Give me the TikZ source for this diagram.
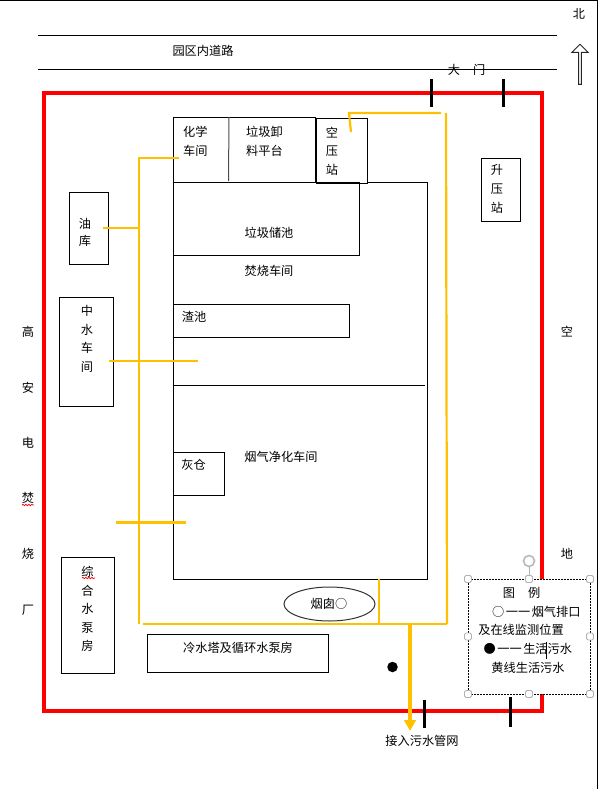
\documentclass[tikz,border=0pt]{standalone}
\usepackage{fontspec}
\setmainfont{Noto Sans CJK SC}
\usetikzlibrary{decorations.pathmorphing,arrows.meta,shapes.geometric,shapes.arrows}
\definecolor{pipe}{RGB}{255,192,0}
\tikzset{
  x=1pt,y=-1pt,
  lbl/.style={inner sep=0pt,font=\fontsize{12.2}{14}\selectfont},
  box/.style={draw=black,line width=1pt,inner sep=0pt,outer sep=0pt,anchor=north west,fill=none},
  tick/.style={draw=black,line width=3pt},
  pipeline/.style={draw=pipe,line width=2.2pt},
  handle/.style={draw=gray!60,fill=white,line width=.9pt,rounded corners=1.5pt,minimum size=7pt,inner sep=0pt},
  squiggle/.style={draw=red,line width=.7pt,decorate,decoration={snake,amplitude=.7pt,segment length=3pt}}
}
\newcommand{\rectnode}[5]{\node[box,minimum width=#4pt,minimum height=#5pt] (#1) at (#2,#3) {};}
\begin{document}
\begin{tikzpicture}
\useasboundingbox (0,0) rectangle (598,789);
% page edge
\coordinate (edgeA) at (0,.5); \coordinate (edgeB) at (597.5,.5); \coordinate (edgeC) at (597.5,789);
\draw[line width=1pt] (edgeA) -- (edgeB) -- (edgeC);
% road
\coordinate (roadAw) at (38,36); \coordinate (roadAe) at (557,36);
\coordinate (roadBw) at (38,69.5); \coordinate (roadBe) at (557,69.5);
\draw[line width=1pt] (roadAw) -- (roadAe);
\draw[line width=1pt] (roadBw) -- (roadBe);
\node[lbl] (road) at (203,51) {园区内道路};
\node[lbl] (gate) at (466.5,70) {大\hspace{13pt}门};
\node[lbl] (north) at (579,14) {北};
\node[draw=black!85,line width=1pt,single arrow,shape border rotate=90,minimum height=40pt,minimum width=16pt,single arrow head extend=2.2pt,single arrow head indent=0pt,single arrow tip angle=90,inner sep=0pt] (narrow) at (580,65) {};
% site wall
\node[draw=red,line width=4pt,inner sep=0pt,outer sep=0pt,anchor=north west,minimum width=498pt,minimum height=618pt] (site) at (44,93) {};
\coordinate (gA1) at (431,79); \coordinate (gA2) at (431,107);
\coordinate (gB1) at (503,79); \coordinate (gB2) at (503,107);
\coordinate (gC1) at (424,700); \coordinate (gC2) at (424,728);
\coordinate (gD1) at (510,697); \coordinate (gD2) at (510,727);
\draw[tick] (gA1) -- (gA2);
\draw[tick] (gB1) -- (gB2);
\draw[tick] (gC1) -- (gC2);
\draw[tick] (gD1) -- (gD2);
% side labels
\node[lbl] (w1) at (28,332) {高};
\node[lbl] (w2) at (28,388) {安};
\node[lbl] (w3) at (28,443) {电};
\node[lbl] (w4) at (28,498) {焚};
\node[lbl] (w5) at (28,554) {烧};
\node[lbl] (w6) at (28,610) {厂};
\node[lbl] (e1) at (567,332) {空};
\node[lbl] (e2) at (567,554) {地};
\coordinate (sqAa) at (22,505); \coordinate (sqAb) at (34,505);
\draw[squiggle] (sqAa) -- (sqAb);
% buildings
\rectnode{main}{173}{182}{254}{397}
\rectnode{chem}{173}{118}{142}{64}
\coordinate (divT) at (229,117); \coordinate (divB) at (228.5,181);
\draw[line width=1pt,draw=black!70] (divT) -- (divB);
\node[lbl,align=left,anchor=north west,font=\fontsize{12.2}{19}\selectfont] (chemt) at (183,125.5) {化学\\车间};
\node[lbl,align=left,anchor=north west,font=\fontsize{12.2}{19}\selectfont] (unload) at (246,125.5) {垃圾卸\\料平台};
\node[box,fill=white,minimum width=51pt,minimum height=64pt] (air) at (316,119) {};
\node[lbl,align=center,font=\fontsize{12.2}{18.5}\selectfont] (airt) at (332,151) {空\\压\\站};
\rectnode{bunker}{173}{182}{186}{73}
\node[lbl] (bunkert) at (269,233) {垃圾储池};
\node[lbl] (burn) at (269,271) {焚烧车间};
\rectnode{slag}{173}{304}{176}{33}
\node[lbl] (slagt) at (194,317) {渣池};
\coordinate (divLa) at (173,385); \coordinate (divLb) at (425,385);
\draw[line width=1pt] (divLa) -- (divLb);
\rectnode{ash}{173}{452}{51}{43}
\node[lbl] (asht) at (193.5,465) {灰仓};
\node[lbl] (flue) at (281,457) {烟气净化车间};
\rectnode{oil}{69}{192}{39}{72}
\node[lbl,align=center,font=\fontsize{12.2}{17}\selectfont] (oilt) at (85,232.5) {油\\库};
\rectnode{water}{59}{297}{54}{109}
\node[lbl,align=center,font=\fontsize{12.2}{18.7}\selectfont] (watert) at (87,339) {中\\水\\车\\间};
\rectnode{pump}{61}{557}{53}{116}
\node[lbl,align=center,font=\fontsize{12.2}{18.5}\selectfont] (pumpt) at (87.5,609) {综\\合\\水\\泵\\房};
\coordinate (sqBa) at (82,578); \coordinate (sqBb) at (95,578);
\draw[squiggle] (sqBa) -- (sqBb);
\rectnode{cool}{147}{634}{181}{38}
\node[lbl] (coolt) at (238,648) {冷水塔及循环水泵房};
\rectnode{boost}{481}{158}{39}{63}
\node[lbl,align=center,font=\fontsize{12.2}{19}\selectfont] (boostt) at (497,189) {升\\压\\站};
\node[draw=black!80,line width=1pt,ellipse,inner sep=0pt,minimum width=91pt,minimum height=34pt] (stack) at (329.5,604) {};
\node[lbl] (stackt) at (329,604) {烟囱○};
% yellow pipes
\coordinate (pa) at (179,158); \coordinate (pb) at (139,158); \coordinate (pc) at (139,624);
\coordinate (pd) at (143,624); \coordinate (pe) at (447,624); \coordinate (pf) at (446,113);
\coordinate (pg) at (441,113); \coordinate (ph) at (349,113); \coordinate (pi) at (351,132);
\coordinate (q1) at (103,228); \coordinate (q2) at (139,228);
\coordinate (q3) at (109,361); \coordinate (q4) at (198,361);
\coordinate (q5) at (116,522.5); \coordinate (q6) at (186,522.5);
\coordinate (q7) at (379,579); \coordinate (q8) at (379,624);
\coordinate (q9) at (410,624); \coordinate (q10) at (410,731);
\draw[pipeline] (pa) -- (pb) -- (pc);
\draw[pipeline] (pd) -- (pe);
\draw[pipeline] (pf) -- (pe);
\draw[pipeline] (pg) -- (ph) -- (pi);
\draw[pipeline] (q1) -- (q2);
\draw[pipeline] (q3) -- (q4);
\draw[pipeline] (q5) -- (q6);
\draw[pipeline] (q7) -- (q8);
\draw[draw=pipe,line width=3.8pt,-{Triangle[length=11pt,width=11.5pt]}] (q9) -- (q10);
\node[circle,fill=black,inner sep=0pt,minimum size=10.5pt] (dot) at (392.5,667) {};
\node[lbl] (sewer) at (422,741) {接入污水管网};
% legend
\node[draw=black,dash pattern=on 2pt off 1pt,fill=white,line width=1pt,inner sep=0pt,outer sep=0pt,anchor=north west,minimum width=122pt,minimum height=115pt] (legend) at (468,579) {};
\node[lbl] (l1) at (521.5,593) {图\hspace{13pt}例};
\node[lbl,anchor=west] (l2) at (492,612) {○\hspace{1.5pt}一一\hspace{1.5pt}烟气排口};
\node[lbl] (l3) at (521,630) {及在线监测位置};
\node[lbl,anchor=west] (l4) at (483.5,649) {●\hspace{1.5pt}一一\hspace{1.5pt}生活污水};
\node[lbl] (l5) at (528,668) {黄线生活污水};
\coordinate (cura) at (546,642); \coordinate (curb) at (546,659);
\draw[line width=.7pt] (cura) -- (curb);
\node[draw=gray!55,circle,line width=1.6pt,minimum size=11pt,inner sep=0pt] (rot) at (529,561) {};
\draw[draw=gray!60,line width=.8pt] (rot) -- (legend.north);
\foreach \a in {north west,north,north east,west,east,south west,south,south east}
  \node[handle] at (legend.\a) {};
\end{tikzpicture}
\end{document}
